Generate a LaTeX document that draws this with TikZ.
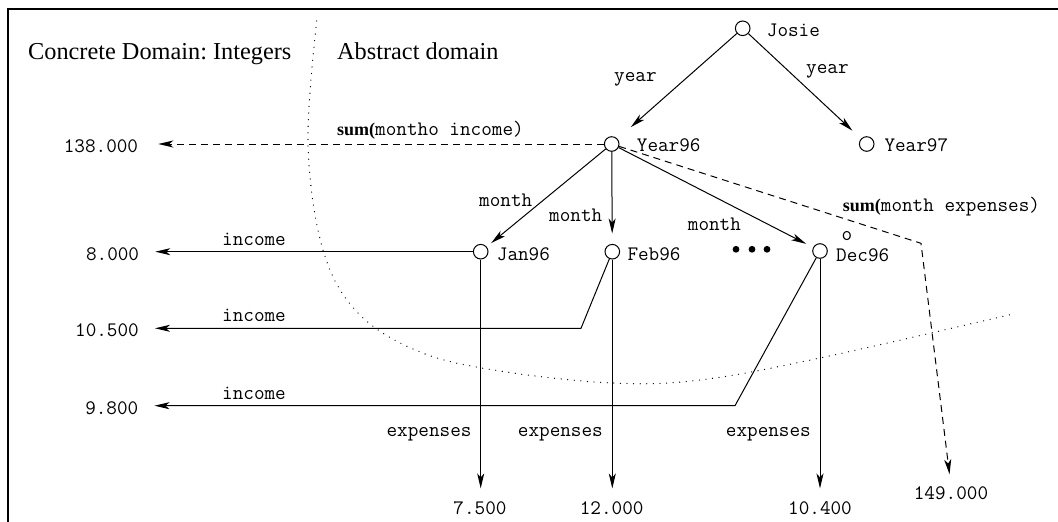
\documentclass[tikz,border=0pt]{standalone}
\usepackage{fontspec}
\setmainfont{Liberation Serif}
\usetikzlibrary{arrows.meta}
\frenchspacing
\begin{document}
\begin{tikzpicture}[x=1pt,y=-1pt,
  st/.style={circle,draw,line width=1pt,minimum size=14.6pt,inner sep=0pt},
  tt/.style={font=\fontsize{20.6}{22}\selectfont\ttfamily,inner sep=0pt},
  rmh/.style={font=\fontsize{24.3}{28}\selectfont\rmfamily,inner sep=0pt},
  edge/.style={line width=1pt,-{Stealth[length=15pt,width=7pt,inset=4pt]}},
  dsh/.style={edge,dash pattern=on 7pt off 5pt},
  dots/.style={line width=1.3pt,line cap=round,dash pattern=on 0pt off 6.6pt}]
\useasboundingbox (0,0) rectangle (1058,522);
\draw[line width=2.2pt] (7.7,522) -- (7.7,8.8) -- (1058,8.8);

% headings
\node[rmh,anchor=base west] (hconc) at (28,59.3) {Concrete Domain: Integers};
\node[rmh,anchor=base west] (habs) at (337,59) {Abstract domain};

% dotted boundary
\draw[dots] plot[smooth,tension=0.6] coordinates {(316.7,21) (308,144) (323,250) (358,313) (420,352) (500,371) (612,383) (700,380) (820,358) (1013,314)};

% state nodes
\node[st] (josie) at (742.7,28.3) {};
\node[st] (y96) at (611.7,144) {};
\node[st] (y97) at (866.7,144) {};
\node[st] (jan) at (480.7,251.7) {};
\node[st] (feb) at (612.3,251.7) {};
\node[st] (dec) at (820,251) {};

% state labels
\node[tt,anchor=base west] (ljosie) at (766.7,36) {Josie};
\node[tt,anchor=base west] (ly96) at (636.7,151.5) {Year96};
\node[tt,anchor=base west] (ly97) at (884.3,151.5) {Year97};
\node[tt,anchor=base west] (ljan) at (496.7,260.7) {Jan96};
\node[tt,anchor=base west] (lfeb) at (627.3,260.7) {Feb96};
\node[tt,anchor=base west] (ldec) at (836,261) {Dec96};
\node[tt,anchor=base west] (lo) at (841.3,240.5) {o};

% ellipsis dots
\fill (736,249.3) circle (3.4pt);
\fill (752,249.3) circle (3.4pt);
\fill (767,249.3) circle (3.4pt);

% values
\node[tt,anchor=base east] (n138) at (138.3,152.5) {138.000};
\node[tt,anchor=base east] (n8000) at (139.3,260.7) {8.000};
\node[tt,anchor=base east] (n10500) at (139,336.7) {10.500};
\node[tt,anchor=base east] (n9800) at (138.5,414.5) {9.800};
\node[tt,anchor=base] (n7500) at (480,514) {7.500};
\node[tt,anchor=base] (n12000) at (611.7,514) {12.000};
\node[tt,anchor=base] (n10400) at (820,514) {10.400};
\node[tt,anchor=base] (n149) at (951,499.3) {149.000};

% edge labels
\node[tt,anchor=base west] (lyear1) at (614,81) {year};
\node[tt,anchor=base west] (lyear2) at (806,73) {year};
\node[tt,anchor=base west] (lm1) at (479,206.7) {month};
\node[tt,anchor=base west] (lm2) at (549,221.7) {month};
\node[tt,anchor=base west] (lm3) at (687.7,230) {month};
\node[tt,anchor=base west] (lsum1) at (337,135) {{\fontsize{18}{20}\rmfamily\bfseries sum(}montho income)};
\node[tt,anchor=base west] (lsum2) at (842.7,211.7) {{\fontsize{18}{20}\rmfamily\bfseries sum(}month expenses)};
\node[tt,anchor=base west] (li1) at (222,245) {income};
\node[tt,anchor=base west] (li2) at (222,321.7) {income};
\node[tt,anchor=base west] (li3) at (222,399) {income};
\node[tt,anchor=base east] (le1) at (471.7,436) {expenses};
\node[tt,anchor=base east] (le2) at (603,436) {expenses};
\node[tt,anchor=base east] (le3) at (811,436) {expenses};

% connectors
\draw[edge,shorten >=17.7pt] (josie) -- (y96);
\draw[edge,shorten >=11.7pt] (josie) -- (y97);
\draw[edge,shorten >=5.7pt] (y96) -- (jan);
\draw[edge,shorten >=10.4pt] (y96) -- (feb);
\draw[edge,shorten >=7.7pt] (y96) -- (dec);

\draw[dsh,shorten >=20pt] (y96.west) -- (y96.west -| n138.east);
\coordinate (cs) at (921,243.3);
\draw[dsh,shorten >=12pt] (y96) -- (cs) -- (n149.north);

\draw[edge,shorten >=16pt] (jan.west) -- (jan.west -| n8000.east);
\coordinate (cf) at (581,328.3);
\draw[edge,shorten >=16pt] (feb) -- (cf) -- (cf -| n10500.east);
\coordinate (cd) at (735,405.7);
\draw[edge,shorten >=16pt] (dec) -- (cd) -- (cd -| n9800.east);

\draw[edge,shorten >=12.5pt] (jan) -- (jan |- n7500.north);
\draw[edge,shorten >=12.5pt] (feb) -- (feb |- n12000.north);
\draw[edge,shorten >=12.5pt] (dec) -- (dec |- n10400.north);
\end{tikzpicture}
\end{document}
